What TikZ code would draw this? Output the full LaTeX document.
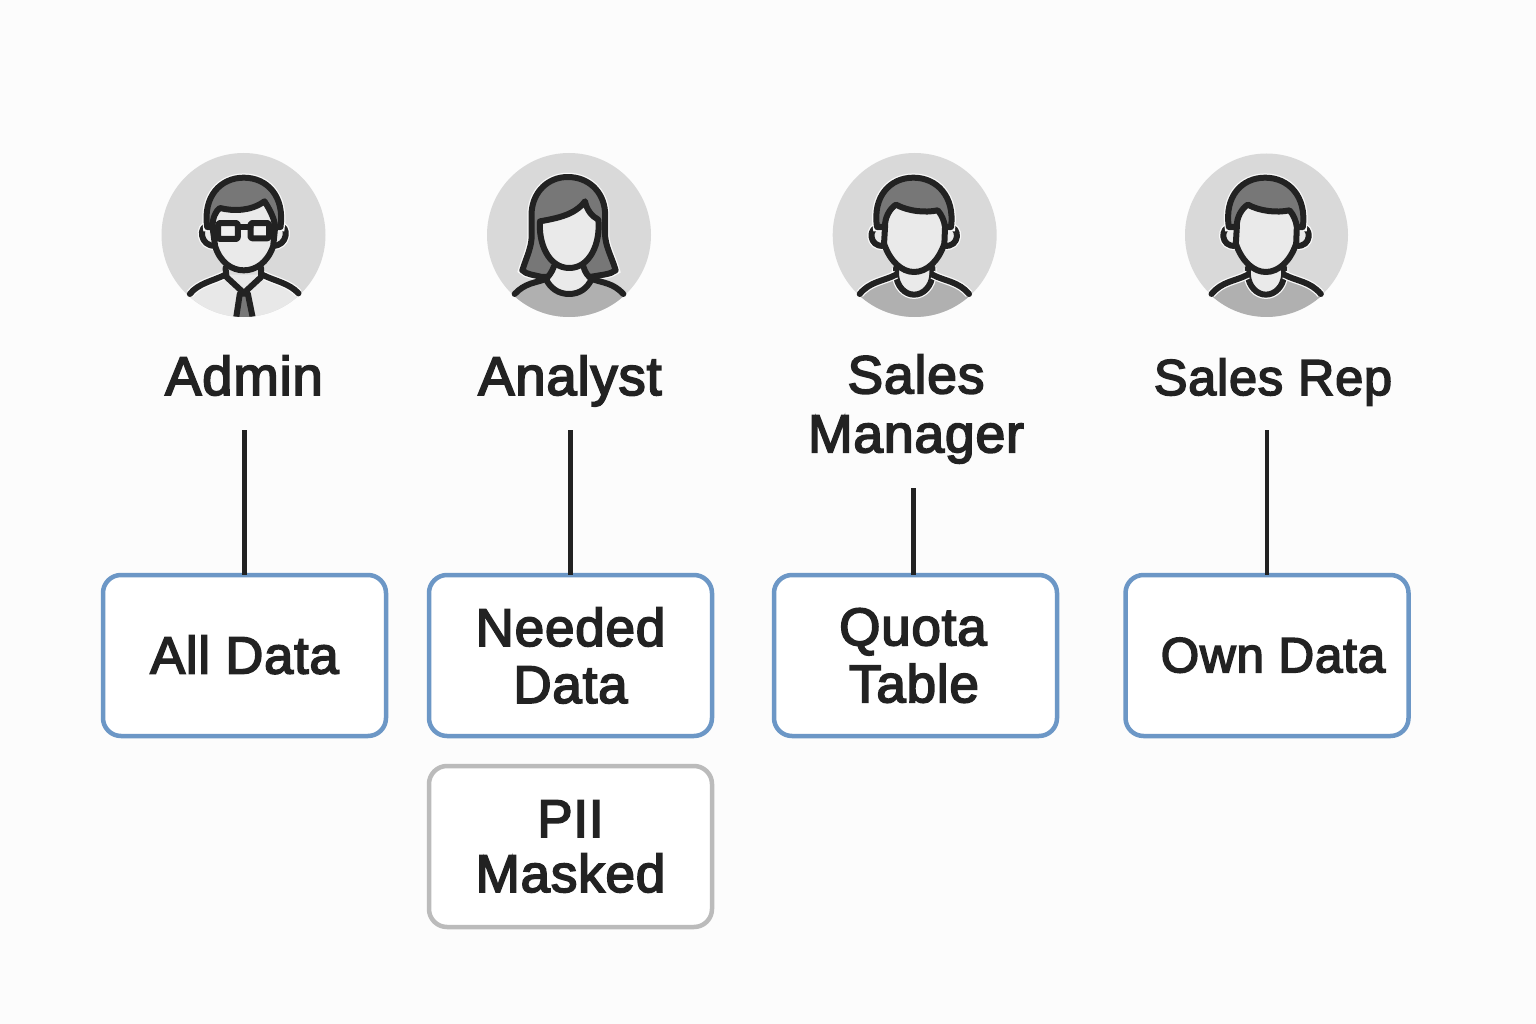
\documentclass[tikz,border=0pt]{standalone}
\usepackage{fontspec}
\setmainfont{Liberation Sans}[FakeBold=3.2, LetterSpace=1.5]
\definecolor{pagebg}{HTML}{FCFCFC}
\definecolor{ink}{HTML}{222222}
\definecolor{disc}{HTML}{D9D9D9}
\definecolor{hairgray}{HTML}{777777}
\definecolor{skin}{HTML}{EAEAEA}
\definecolor{shirt}{HTML}{B0B0B0}
\definecolor{boxblue}{HTML}{6C97C6}
\definecolor{boxgray}{HTML}{BBBBBB}
\tikzset{
    labeltext/.style={font=\fontsize{54.5}{59}\selectfont, text=ink, align=center, inner sep=0pt},
    databox/.style={draw=boxblue, fill=white, line width=4.5pt, rounded corners=18pt,
        minimum width=283pt, minimum height=161pt, outer sep=0pt, inner sep=0pt,
        font=\fontsize{53}{57}\selectfont, text=ink, align=center},
    maskbox/.style={databox, draw=boxgray, font=\fontsize{53}{55}\selectfont},
    wire/.style={draw=ink, line width=4.5pt},
    icon/.style={draw=ink, line width=6pt, line join=round, line cap=round},
    halo/.style={preaction={draw=white!85!disc, line width=8.5pt}},
    avatar/.style 2 args={shift={(#1,235)}, x=0.3333pt, y=-0.3333pt, shift={(#2,-286)}},
}

% face, ears, neck and shoulders, the same for both men
\newcommand{\manbody}{
    \begin{scope}
        \clip (299,286) circle (246);
        \fill[shirt] (130,465) .. controls (170,425) and (205,420) .. (243,405)
            -- (350,405) .. controls (400,420) and (430,425) .. (465,465) -- (465,560) -- (130,560) -- cycle;
    \end{scope}
    \path[icon, halo, fill=skin] (243,385) -- (243,405) .. controls (245,440) and (270,465) .. (297,465)
        .. controls (325,465) and (350,440) .. (352,405) -- (352,385);
    \draw[icon, halo] (134,463) .. controls (165,425) and (205,425) .. (243,405);
    \draw[icon, halo] (352,405) .. controls (390,425) and (430,425) .. (462,463);
    \path[icon, halo, fill=skin] (195,262) .. controls (158,258) and (160,325) .. (207,318);
    \path[icon, halo, fill=skin] (400,262) .. controls (437,258) and (435,325) .. (388,318);
}
\newcommand{\manhead}{
    \path[icon, halo, fill=hairgray] (186,262) .. controls (172,170) and (225,114) .. (295,114)
        .. controls (365,114) and (420,170) .. (408,262) -- cycle;
    \path[icon, fill=skin] (210,262) .. controls (208,235) and (225,205) .. (243,195)
        .. controls (280,215) and (330,220) .. (368,212) .. controls (380,225) and (388,245) .. (390,262)
        -- (388,312) .. controls (370,365) and (335,397) .. (297,397)
        .. controls (260,397) and (225,365) .. (207,312) -- cycle;
}
\newcommand{\adminfigure}{
    \begin{scope}
        \clip (309,286) circle (246);
        \fill[skin!90!disc] (145,465) .. controls (175,430) and (215,425) .. (255,405)
            -- (365,405) .. controls (405,425) and (445,430) .. (475,465) -- (475,560) -- (145,560) -- cycle;
        \path[icon, fill=hairgray] (298,462) -- (322,462) -- (342,560) -- (283,560) -- cycle;
    \end{scope}
    \draw[icon, halo] (148,463) .. controls (175,430) and (215,425) .. (255,405);
    \draw[icon, halo] (365,405) .. controls (405,425) and (445,430) .. (474,461);
    \draw[icon] (255,385) -- (258,412) -- (310,460) -- (362,412) -- (362,385);
    \path[icon, halo, fill=skin] (205,258) .. controls (172,256) and (178,322) .. (224,318);
    \path[icon, halo, fill=skin] (415,258) .. controls (448,256) and (442,322) .. (396,318);
    \path[icon, halo, fill=hairgray] (200,262) .. controls (187,170) and (240,114) .. (310,114)
        .. controls (380,114) and (433,170) .. (420,262) -- cycle;
    \path[icon, fill=skin] (216,262) .. controls (216,235) and (225,215) .. (238,205)
        .. controls (280,215) and (330,215) .. (372,185) .. controls (385,205) and (402,235) .. (404,262)
        -- (398,320) .. controls (380,370) and (345,392) .. (310,392)
        .. controls (275,392) and (240,370) .. (224,320) -- cycle;
    \path[icon, fill=skin!70!white, rounded corners=2pt] (233,250) rectangle (292,298);
    \path[icon, fill=skin!70!white, rounded corners=2pt] (330,250) rectangle (386,296);
    \draw[icon] (292,262) -- (330,262);
}
\newcommand{\analystfigure}{
    \begin{scope}
        \clip (297,286) circle (246);
        \fill[shirt] (130,465) .. controls (165,430) and (195,430) .. (228,418)
            -- (365,418) .. controls (400,430) and (430,430) .. (465,465) -- (465,560) -- (130,560) -- cycle;
    \end{scope}
    \path[icon, halo, fill=hairgray] (215,412) .. controls (190,405) and (170,405) .. (157,392)
        .. controls (170,350) and (187,320) .. (185,280) -- (185,215)
        .. controls (190,155) and (235,112) .. (293,112) .. controls (355,112) and (400,155) .. (405,215)
        -- (405,280) .. controls (405,320) and (425,350) .. (437,392) .. controls (420,405) and (395,405) .. (360,412) -- cycle;
    \path[icon, fill=skin] (252,380) .. controls (245,400) and (235,410) .. (228,418)
        .. controls (240,445) and (265,463) .. (297,463) .. controls (330,463) and (352,445) .. (365,418)
        .. controls (355,410) and (345,400) .. (340,380);
    \draw[icon] (134,463) .. controls (165,430) and (195,430) .. (228,418);
    \draw[icon] (365,418) .. controls (400,430) and (430,430) .. (460,463);
    \path[icon, fill=skin] (210,245) .. controls (265,235) and (315,225) .. (345,185)
        .. controls (350,210) and (365,230) .. (385,240) .. controls (392,310) and (360,385) .. (298,385)
        .. controls (235,385) and (205,310) .. (210,245) -- cycle;
}

\begin{document}
\begin{tikzpicture}[x=1pt, y=-1pt]

    \def\ylabel{395}
    \def\ybox{655.5}
    \def\ystem{430}

    \fill[pagebg] (0,0) rectangle (1536,1024);

    % portraits
    \fill[disc] (243.5,235) circle (82);
    \fill[disc] (569,235) circle (82);
    \fill[disc] (914.7,235) circle (82);
    \fill[disc] (1266.5,235) circle (81.5);

    \begin{scope}[avatar={243.5}{-309}]
        \adminfigure
    \end{scope}
    \begin{scope}[avatar={569}{-297}]
        \analystfigure
    \end{scope}
    \begin{scope}[avatar={914.7}{-299}]
        \manbody
        \manhead
    \end{scope}
    \begin{scope}[avatar={1266.5}{-299}]
        \manbody
        \manhead
    \end{scope}

    % role names
    \node[labeltext, anchor=base] (adminLabel) at (244,\ylabel) {Admin};
    \node[labeltext, anchor=base] (analystLabel) at (570,\ylabel) {Analyst};
    \node[labeltext, font=\fontsize{53.5}{59}\selectfont] (managerLabel) at (916,409) {Sales\\Manager};
    \node[labeltext, anchor=base, font=\fontsize{50.5}{59}\selectfont] (repLabel) at (1273,\ylabel) {Sales Rep};

    % what each role can see
    \node[databox, font=\fontsize{52.5}{57}\selectfont] (allBox) at (244.5,\ybox) {\raisebox{2pt}{All Data}};
    \node[databox] (neededBox) at (570.5,\ybox) {Needed\\Data};
    \node[databox] (quotaBox) at (915.5,\ybox) {\hspace*{-5pt}Quota\\\hspace*{-3pt}Table};
    \node[databox, font=\fontsize{49.5}{57}\selectfont] (ownBox) at (1267,\ybox) {\hspace*{12pt}\raisebox{1pt}{Own Data}};
    \node[maskbox] (maskedBox) at (570.5,846.5) {PII\\Masked};

    \coordinate (adminStem) at (244.5,\ystem);
    \coordinate (analystStem) at (570.5,\ystem);
    \coordinate (managerStem) at (913.5,488);
    \coordinate (repStem) at (1267,\ystem);

    \draw[wire] (adminStem) -- (allBox.north);
    \draw[wire] (analystStem) -- (neededBox.north);
    \draw[wire] (managerStem) -- (managerStem |- quotaBox.north);
    \draw[wire] (repStem) -- (ownBox.north);

\end{tikzpicture}
\end{document}
